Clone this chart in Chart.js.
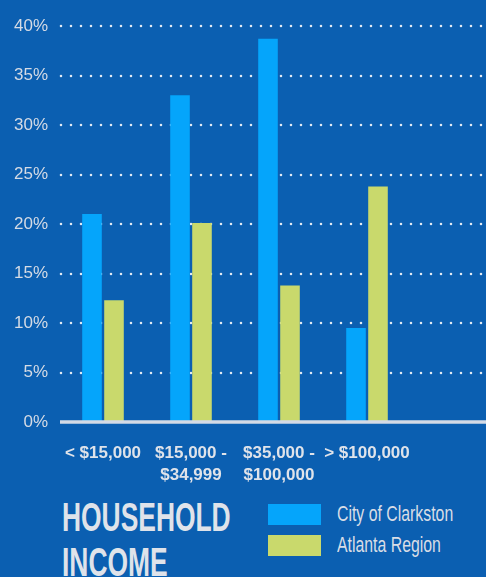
<!DOCTYPE html>
<html>
<head>
<meta charset="utf-8">
<script src="https://cdn.jsdelivr.net/npm/chart.js@4.4.1/dist/chart.umd.min.js"></script>
<style>
    html, body { margin: 0; padding: 0; background: #0b5fb1; overflow: hidden; }
    #wrap { position: relative; width: 486px; height: 577px; background: #0b5fb1; }
    #chart-box { position: absolute; left: 0; top: 0; width: 486px; height: 492px; }
    .title {
        position: absolute; left: 62px; top: 495px;
        font-family: 'Liberation Sans', Arial, sans-serif;
        font-weight: bold; font-size: 40px; line-height: 45px;
        color: #dfe3ea; transform: scaleX(0.66); transform-origin: 0 0;
        white-space: nowrap;
    }
    .legend { position: absolute; left: 268px; top: 504px; }
    .legend-item { position: relative; height: 31px; }
    .legend-box { position: absolute; left: 0; top: 0; width: 53px; height: 21px; }
    .legend-label {
        position: absolute; left: 69px; top: -2px;
        font-family: 'Liberation Sans', Arial, sans-serif;
        font-size: 22px; line-height: 24px; color: #d8dde6;
        transform: scaleX(0.72); transform-origin: 0 0; white-space: nowrap;
    }
</style>
</head>
<body>
<div id="wrap">
    <div id="chart-box"><canvas id="income-chart"></canvas></div>
    <div class="title">HOUSEHOLD<br>INCOME</div>
    <div class="legend" id="income-legend"></div>
</div>
<script>
// Household income brackets and share of households (%)
const incomeBrackets = [
    ['< $15,000'],
    ['$15,000 -', '$34,999'],
    ['$35,000 -', '$100,000'],
    ['> $100,000']
];
const clarkstonShare = [21.0, 33.0, 38.7, 9.5];
const atlantaShare = [12.3, 20.1, 13.8, 23.8];
const seriesNames = ['City of Clarkston', 'Atlanta Region'];
const yTicks = [0, 5, 10, 15, 20, 25, 30, 35, 40];

const clarkstonColor = '#05a5fb';
const atlantaColor = '#c9d96c';
const labelColor = '#d5dbe5';

// dotted guides run to the right edge of the canvas, baseline drawn over the bars
const guideLines = {
    id: 'guideLines',
    beforeDatasetsDraw(chart) {
        const ctx = chart.ctx;
        const y = chart.scales.y;
        const left = chart.chartArea.left;
        ctx.save();
        ctx.strokeStyle = 'rgba(236, 241, 248, 0.95)';
        ctx.lineWidth = 2.6;
        ctx.lineCap = 'round';
        ctx.setLineDash([0, 10]);
        yTicks.forEach(v => {
            if (v === 0) return;
            const py = Math.round(y.getPixelForValue(v));
            ctx.beginPath();
            ctx.moveTo(left + 2, py);
            ctx.lineTo(chart.width, py);
            ctx.stroke();
        });
        ctx.restore();
    },
    afterDatasetsDraw(chart) {
        const ctx = chart.ctx;
        const py = chart.scales.y.getPixelForValue(0);
        ctx.save();
        ctx.strokeStyle = '#d3dae6';
        ctx.lineWidth = 3.5;
        ctx.beginPath();
        ctx.moveTo(chart.chartArea.left + 1, py);
        ctx.lineTo(chart.width, py);
        ctx.stroke();
        ctx.restore();
    }
};

const chart = new Chart(document.getElementById('income-chart'), {
    type: 'bar',
    data: {
        labels: incomeBrackets,
        datasets: [
            {
                label: seriesNames[0],
                data: clarkstonShare,
                backgroundColor: clarkstonColor,
                categoryPercentage: 0.5,
                barPercentage: 0.89
            },
            {
                label: seriesNames[1],
                data: atlantaShare,
                backgroundColor: atlantaColor,
                categoryPercentage: 0.5,
                barPercentage: 0.89
            }
        ]
    },
    options: {
        responsive: true,
        maintainAspectRatio: false,
        animation: false,
        layout: {
            padding: { top: 26, right: 75, left: 0, bottom: 0 }
        },
        scales: {
            x: {
                grid: { display: false, drawTicks: false },
                border: { display: false },
                afterFit: s => { s.height = 70; },
                ticks: {
                    color: '#dfe3ea',
                    padding: 20,
                    maxRotation: 0,
                    autoSkip: false,
                    font: { family: "'Liberation Sans', Arial, sans-serif", size: 17, weight: 'bold', lineHeight: 1.3 }
                }
            },
            y: {
                min: 0,
                max: 40,
                grid: { display: false, drawTicks: false },
                border: { display: false },
                afterFit: s => { s.width = 59; },
                afterBuildTicks: s => { s.ticks = yTicks.map(v => ({ value: v })); },
                ticks: {
                    color: labelColor,
                    padding: 11,
                    font: { family: "'Liberation Sans', Arial, sans-serif", size: 17 },
                    callback: v => v + '%'
                }
            }
        },
        plugins: {
            legend: { display: false },
            tooltip: { enabled: false }
        }
    },
    plugins: [guideLines]
});

// Legend built from the chart's own datasets
const legendEl = document.getElementById('income-legend');
chart.data.datasets.forEach(ds => {
    const item = document.createElement('div');
    item.className = 'legend-item';
    const box = document.createElement('div');
    box.className = 'legend-box';
    box.style.backgroundColor = ds.backgroundColor;
    const label = document.createElement('span');
    label.className = 'legend-label';
    label.textContent = ds.label;
    item.appendChild(box);
    item.appendChild(label);
    legendEl.appendChild(item);
});
</script>
</body>
</html>
